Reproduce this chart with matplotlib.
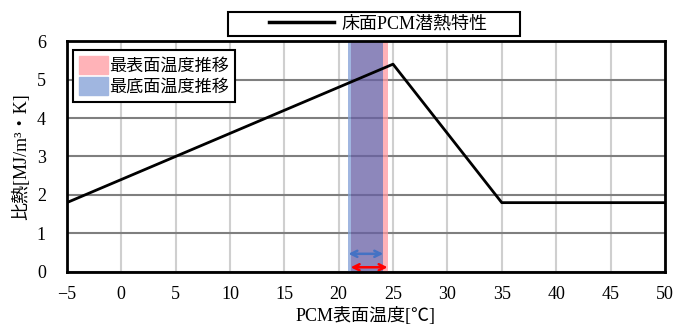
import numpy as np
import matplotlib.pyplot as plt
from matplotlib.patches import Patch, Rectangle
from matplotlib.lines import Line2D

plt.rcParams['font.family'] = ['Liberation Serif', 'Noto Sans CJK JP']

# Dados
temp = [-5, 25, 35, 50]            # temperatura [°C]
calor = [1.8, 5.4, 1.8, 1.8]       # calor específico [MJ/m3K]
faixa_sup = [21.1, 24.5]           # 最表面温度推移
faixa_inf = [20.9, 24.1]           # 最底面温度推移
seta_sup_y = 0.12
seta_inf_y = 0.47

fig = plt.figure(figsize=(6.75, 3.26), dpi=100)
ax = fig.add_axes([0.099, 0.166, 0.886, 0.708])

# cores das faixas (semi-transparentes, a grade aparece por baixo)
cor_sup = '#ff99a0'
cor_inf = '#809ed6'
cor_comum = '#675fa4'
ALFA = 0.75
ini_comum = max(faixa_inf[0], faixa_sup[0])
fim_comum = min(faixa_inf[1], faixa_sup[1])
ax.axvspan(faixa_inf[0], ini_comum, color=cor_inf, alpha=ALFA, zorder=2, lw=0)
ax.axvspan(fim_comum, faixa_sup[1], color=cor_sup, alpha=ALFA, zorder=2, lw=0)
ax.axvspan(ini_comum, fim_comum, color=cor_comum, alpha=ALFA, zorder=2, lw=0)

ax.plot(temp, calor, color='black', lw=2, zorder=4)

ax.annotate('', xy=(faixa_inf[0], seta_inf_y), xytext=(faixa_inf[1], seta_inf_y),
            arrowprops=dict(arrowstyle='<->', color='#4472c4', lw=1.8,
                            mutation_scale=11, shrinkA=0, shrinkB=0), zorder=5)
ax.annotate('', xy=(faixa_sup[0], seta_sup_y), xytext=(faixa_sup[1], seta_sup_y),
            arrowprops=dict(arrowstyle='<->', color='red', lw=1.8,
                            mutation_scale=11, shrinkA=0, shrinkB=0), zorder=5)

ax.set_xlim(-5, 50)
ax.set_ylim(0, 6)
ax.set_xticks(np.arange(-5, 51, 5))
ax.set_yticks(np.arange(0, 7, 1))
ax.grid(True, color='#7f7f7f', lw=1.5)
for l in ax.get_xgridlines() + ax.get_ygridlines():
    l.set_zorder(1)
    l.set_snap(True)
for l in ax.get_xgridlines():
    if abs(l.get_xdata()[0]) < 1e-9:
        l.set_color('#cfcfcf')
ax.tick_params(length=0, labelsize=13)
ax.tick_params(axis='x', pad=10)
ax.tick_params(axis='y', pad=15)
for s in ax.spines.values():
    s.set_linewidth(2)
    s.set_zorder(6)

ax.set_xlabel('PCM表面温度[℃]', fontsize=13, labelpad=3)
ax.set_ylabel('比熱[MJ/m³・K]', fontsize=13, labelpad=5)

# legenda superior, caixa desenhada à parte
fig.patches.append(Rectangle((228 / 675, 1 - 36 / 326), 292 / 675, 24 / 326,
                             transform=fig.transFigure, fill=False,
                             edgecolor='black', lw=1.5))
leg1 = fig.legend(handles=[Line2D([], [], color='black', lw=2.5)],
                  labels=['床面PCM潜熱特性'], loc='center',
                  bbox_to_anchor=(0.56, 0.926), fontsize=13, frameon=False,
                  handlelength=3.6, handletextpad=0.4, borderaxespad=0)
leg2 = ax.legend(handles=[Patch(color='#ffb3b8'), Patch(color='#a0b6e0')],
                 labels=['最表面温度推移', '最底面温度推移'], loc='upper left',
                 bbox_to_anchor=(0.01, 0.96), fontsize=12.3, fancybox=False,
                 edgecolor='black', framealpha=1, handlelength=1.7,
                 handleheight=1.25, handletextpad=0.1, labelspacing=0.1,
                 borderpad=0.35, borderaxespad=0)
leg2.get_frame().set_linewidth(1.5)
leg2.set_zorder(7)

fig.savefig('out.png', dpi=100)
